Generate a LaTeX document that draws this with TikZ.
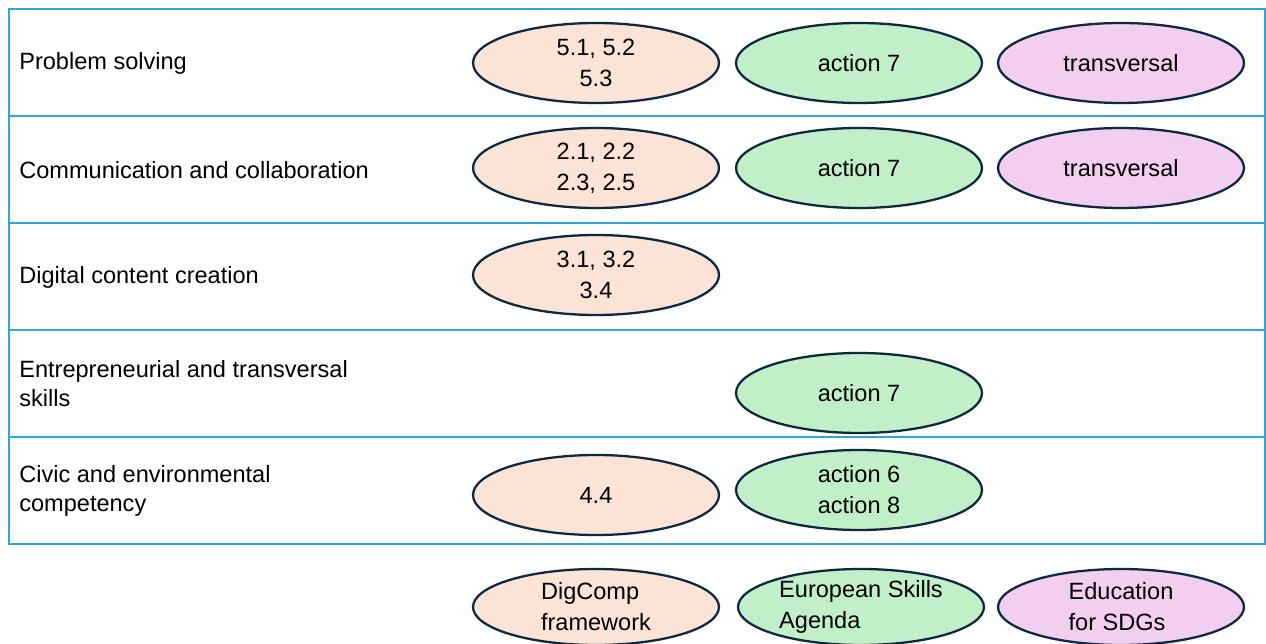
\documentclass[tikz,border=0pt]{standalone}
\usepackage{fontspec}
\setmainfont{Liberation Sans}
\usetikzlibrary{shapes.geometric, positioning}
\definecolor{gridblue}{HTML}{2EA6DC}
\definecolor{ovalline}{HTML}{0E2841}
\definecolor{digpeach}{HTML}{FBE3D6}
\definecolor{skillgreen}{HTML}{C1F0C8}
\definecolor{sdgpink}{HTML}{F2CEEF}

\begin{document}
\begin{tikzpicture}[x=0.02cm, y=-0.02cm,
  rowlabel/.style={anchor=west, align=left, font=\fontsize{13.4}{16.5}\selectfont, inner sep=0pt},
  oval/.style={ellipse, draw=ovalline, line width=1.3pt, minimum width=4.92cm, minimum height=1.6cm, inner sep=0pt, align=center, font=\fontsize{13.4}{17.6}\selectfont},
  dig/.style={oval, fill=digpeach},
  esa/.style={oval, fill=skillgreen},
  sdg/.style={oval, fill=sdgpink},
  legend/.style={minimum height=1.52cm, align=left},
  grid/.style={draw=gridblue, line width=1.5pt}
]
\useasboundingbox (0,0) rectangle (1266,644);
% table
\draw[grid] (9,9) rectangle (1265,544);
\foreach \y in {116,223,330,437}
  \draw[grid] (9,\y) -- (1265,\y);
% row labels
\node[rowlabel] (ps) at (19,63.5) {Problem solving};
\node[rowlabel] (cc) at (19,170.5) {Communication and collaboration};
\node[rowlabel] (dc) at (19,277.5) {Digital content creation};
\node[rowlabel] (ets) at (19,384) {Entrepreneurial and transversal\\skills};
\node[rowlabel] (cec) at (19,491) {Civic and environmental\\competency};
% row 1
\node[dig] (ps-dig) at (596,63) {5.1, 5.2\\5.3};
\node[esa] (ps-esa) at (859,63) {action 7};
\node[sdg] (ps-sdg) at (1121,63) {transversal};
% row 2
\node[dig] (cc-dig) at (596,168) {2.1, 2.2\\2.3, 2.5};
\node[esa] (cc-esa) at (859,168) {action 7};
\node[sdg] (cc-sdg) at (1121,168) {transversal};
% row 3
\node[dig] (dc-dig) at (596,275) {3.1, 3.2\\3.4};
% row 4
\node[esa] (ets-esa) at (859,393) {action 7};
% row 5
\node[dig] (cec-dig) at (596,495) {4.4};
\node[esa] (cec-esa) at (859,490) {action 6\\action 8};
% legend
\node[dig, legend] (leg-dig) at (596,607) {DigComp\\framework};
\node[esa, legend] (leg-esa) at (861,607) {European Skills\\Agenda};
\node[sdg, legend] (leg-sdg) at (1121,607) {Education\\for SDGs};
\end{tikzpicture}
\end{document}
